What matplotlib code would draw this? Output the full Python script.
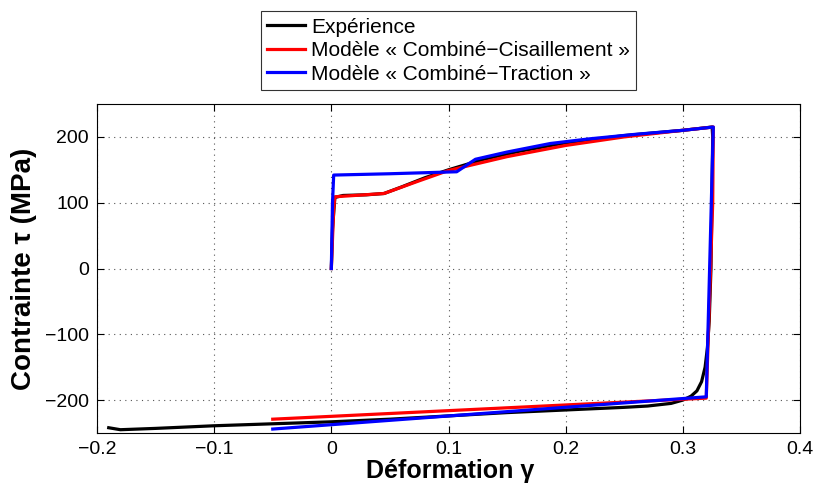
import matplotlib
matplotlib.use("Agg")
import matplotlib.pyplot as plt
import numpy as np

plt.rcParams['font.family'] = ['Liberation Sans', 'DejaVu Sans']

# Experiment
exp_x = [0.0, 0.001, 0.003, 0.01, 0.03, 0.045, 0.06, 0.08, 0.1, 0.13, 0.16, 0.2, 0.25, 0.3, 0.325,
         0.3255, 0.324, 0.3225, 0.321, 0.319, 0.316, 0.312, 0.307, 0.3, 0.29, 0.27, 0.25, 0.2, 0.15,
         0.1, 0.05, 0.0, -0.05, -0.1, -0.15, -0.18, -0.19]
exp_y = [0, 60, 108, 111, 112, 114, 124, 138, 150, 166, 178, 191, 202, 210, 215,
         200, 0, -80, -120, -150, -172, -186, -194, -200, -205, -209, -211, -215, -219,
         -224, -229, -233, -236, -239, -243, -245, -242]

# Model "Combiné-Cisaillement"
red_x = [0.0, 0.002, 0.003, 0.02, 0.045, 0.073, 0.1, 0.15, 0.2, 0.25, 0.3, 0.326, 0.3255, 0.32, -0.05]
red_y = [0, 90, 109, 111, 114, 132, 149, 170, 187, 200, 210, 215, 100, -197, -229]

# Model "Combiné-Traction"
blue_x = [0.0, 0.001, 0.002, 0.05, 0.107, 0.123, 0.15, 0.187, 0.22, 0.26, 0.3, 0.326, 0.32, -0.05]
blue_y = [0, 100, 142, 144, 147, 166, 177, 190, 197, 204, 210, 215, -195, -244]

xticks = [-0.2, -0.1, 0, 0.1, 0.2, 0.3, 0.4]
xtick_labels = ['\u22120.2', '\u22120.1', '0', '0.1', '0.2', '0.3', '0.4']
yticks = [-200, -100, 0, 100, 200]
ytick_labels = ['\u2212200', '\u2212100', '0', '100', '200']

fig = plt.figure(figsize=(8.13, 4.9), dpi=100)
ax = fig.add_axes([97/813, 1-433/490, (800-97)/813, (433-104)/490])

ax.plot(exp_x, exp_y, color='black', lw=2.3, label='Expérience')
ax.plot(red_x, red_y, color='#ff0000', lw=2.3, label='Modèle « Combiné\u2212Cisaillement »')
ax.plot(blue_x, blue_y, color='#0000ff', lw=2.3, label='Modèle « Combiné\u2212Traction »')

ax.set_xlim(-0.2, 0.4)
ax.set_ylim(-250, 250)
ax.set_xticks(xticks)
ax.set_xticklabels(xtick_labels)
ax.set_yticks(yticks)
ax.set_yticklabels(ytick_labels)
ax.tick_params(direction='in', top=True, right=True, labelsize=14, length=5, pad=6)
ax.grid(True, linestyle=(0, (1, 4)), color='#555555', linewidth=0.8)
for s in ax.spines.values():
    s.set_linewidth(0.8)

ax.set_xlabel('Déformation γ', fontsize=18, fontweight='bold')
ax.set_ylabel('Contrainte τ (MPa)', fontsize=20, fontweight='bold')
ax.xaxis.set_label_coords(0.502, -0.080)
ax.yaxis.set_label_coords(-0.085, 0.5)

leg = ax.legend(loc='lower center', bbox_to_anchor=(0.5, 1.0425), fontsize=15,
                frameon=True, fancybox=False, edgecolor='black', handlelength=1.8,
                handletextpad=0.3, labelspacing=0.22, borderpad=0.3, borderaxespad=0)
leg.get_frame().set_linewidth(0.8)

fig.savefig('out.png', dpi=100)
